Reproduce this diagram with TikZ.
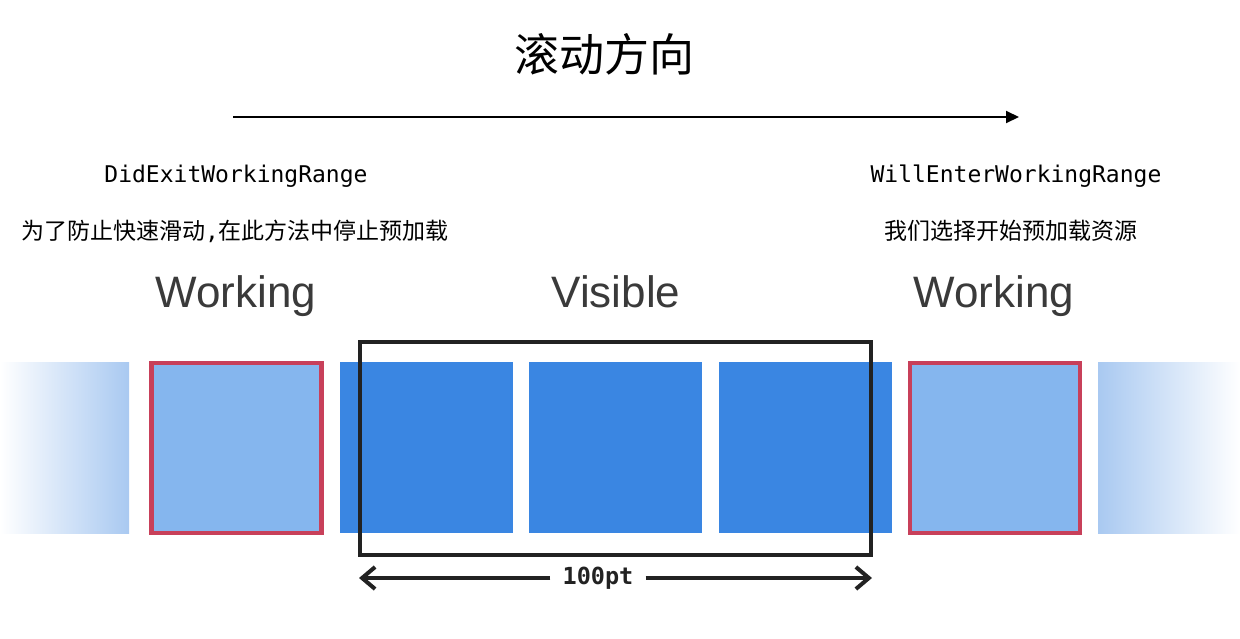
\documentclass[tikz,border=0pt]{standalone}
\usepackage{fontspec}
\newfontfamily\cjk{Noto Sans CJK SC}
\newfontfamily\monof{DejaVu Sans Mono}
\newfontfamily\helv{Liberation Sans}
\usetikzlibrary{arrows.meta}
\definecolor{blockblue}{HTML}{3A86E2}
\definecolor{lightblue}{HTML}{85B6EE}
\definecolor{fadeblue}{HTML}{A9C9F1}
\definecolor{redline}{HTML}{C8405A}
\definecolor{darkline}{HTML}{222222}
\definecolor{labelgray}{HTML}{3A3A3A}
\tikzset{
  blk/.style={fill=blockblue, draw=none, inner sep=0pt, minimum width=173pt, minimum height=171pt},
  workbox/.style={fill=lightblue, draw=redline, line width=4.5pt, inner sep=0pt, minimum width=170pt, minimum height=170pt},
  fadebox/.style={draw=none, inner sep=0pt, minimum height=171pt},
  monolabel/.style={font=\monof\fontsize{23}{26}\selectfont, inner sep=0pt},
  cjklabel/.style={font=\cjk\fontsize{23}{26}\selectfont, inner sep=0pt},
  biglabel/.style={font=\helv\fontsize{44}{48}\selectfont, text=labelgray, inner sep=0pt, anchor=base},
}
\begin{document}
\begin{tikzpicture}[x=1pt,y=-1pt]
\useasboundingbox (0,0) rectangle (1240,638);
% title
\node[font=\cjk\fontsize{45}{50}\selectfont, inner sep=0pt] (title) at (604,54) {滚动方向};
% scroll arrow
\coordinate (sa) at (233,117);
\coordinate (sb) at (1019,117);
\draw[line width=2pt, -{Triangle[length=13pt,width=12pt]}] (sa) -- (sb);
% method labels
\node[monolabel, anchor=base] (exit) at (236,182) {DidExitWorkingRange};
\node[monolabel, anchor=base] (enter) at (1016,182) {WillEnterWorkingRange};
\node[cjklabel] (exitdesc) at (235,231) {为了防止快速滑动{\monof,}在此方法中停止预加载};
\node[cjklabel] (enterdesc) at (1011,231) {我们选择开始预加载资源};
% range labels
\node[biglabel] (wl) at (236,307) {Working};
\node[biglabel] (vis) at (616,307) {Visible};
\node[biglabel] (wr) at (994,307) {Working};
% cells
\node[fadebox, minimum width=129pt, left color=white, right color=fadeblue] (fl) at (64.5,447.5) {};
\node[fadebox, minimum width=142pt, left color=fadeblue, right color=white] (fr) at (1169,447.5) {};
\node[workbox] (rl) at (236.5,448) {};
\node[workbox] (rr) at (995,448) {};
\node[blk] (b1) at (426.5,447.5) {};
\node[blk] (b2) at (615.5,447.5) {};
\node[blk] (b3) at (805.5,447.5) {};
% visible frame
\node[draw=darkline, line width=4pt, inner sep=0pt, minimum width=511pt, minimum height=213pt] (frame) at (615.5,448.5) {};
% 100pt dimension
\node[font=\monof\bfseries\fontsize{23.5}{26}\selectfont, text=darkline, inner sep=0pt] (dim) at (598,578) {100pt};
\coordinate (dl) at (359,578);
\coordinate (dr) at (872,578);
\draw[line width=4pt, darkline, -{Straight Barb[length=13pt,width=22pt]}] ([xshift=-12pt]dim.west) -- (dl);
\draw[line width=4pt, darkline, -{Straight Barb[length=13pt,width=22pt]}] ([xshift=12pt]dim.east) -- (dr);
\end{tikzpicture}
\end{document}
